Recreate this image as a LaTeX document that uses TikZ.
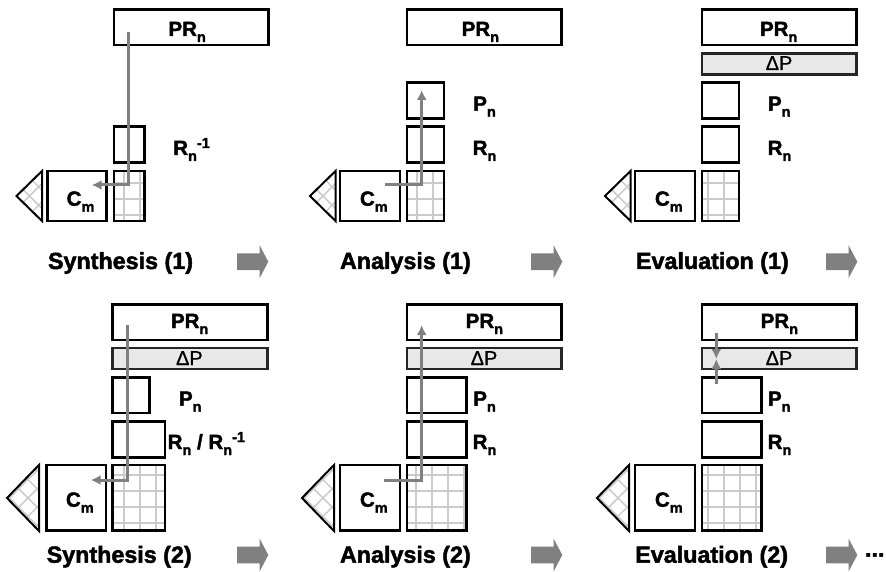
\documentclass[tikz,border=0pt]{standalone}
\usepackage{fontspec}
\setmainfont{Liberation Sans}[BoldFeatures={FakeBold=2}]
\newfontfamily\deltafont{Liberation Sans}[FakeBold=0.8]
\usetikzlibrary{arrows.meta}
\newcommand{\lowered}[1]{\raisebox{-6pt}{\fontsize{14.5}{15}\selectfont #1}}
\newcommand{\raised}[1]{\raisebox{7pt}{\fontsize{14.5}{15}\selectfont #1}}
\definecolor{flowgray}{gray}{0.5}
\definecolor{meshgray}{gray}{0.8}
\definecolor{deltafill}{gray}{0.91}
\tikzset{
  cell/.style={draw, line width=2.5pt, inner sep=0pt, outer sep=0pt, anchor=north west},
  deltabar/.style={cell, draw=black!85, fill=deltafill},
  tag/.style={inner sep=0pt, outer sep=0pt, anchor=base west, font=\fontsize{20.5}{24}\selectfont\bfseries},
  deltatag/.style={inner sep=0pt, outer sep=0pt, anchor=base west, font=\fontsize{20}{23}\deltafont},
  stagetag/.style={inner sep=0pt, outer sep=0pt, anchor=base west, font=\fontsize{23.3}{28}\selectfont\bfseries},
  mesh/.style={meshgray, line width=1.8pt},
  flow/.style={flowgray, line width=3pt},
  flowtip/.style={flow, -{Latex[length=10pt,width=10pt]}},
}
\begin{document}
\begin{tikzpicture}[x=1pt,y=-1pt]
    \useasboundingbox (0,0) rectangle (886,572);
    % meshes of the triangles and of the grid cells
    \foreach \tipx/\edge/\tipy/\top/\low/\off in {16.5/42/196/171/221/13, 310/335.5/196/171/221/13, 605/630.5/196/171/221/13,
        7/39/498/465/531/21, 302/334/498/465/531/21, 597/629/498/465/531/21}{
    \begin{scope}
    \clip (\tipx,\tipy) -- (\edge,\top) -- (\edge,\low) -- cycle;
    \draw[mesh, line width=1.5pt, step=13pt, shift={(\tipx+\off,\tipy)}, rotate=45] (-65,-65) grid (65,65);
    \end{scope}
    \draw[line width=2pt, line join=miter] (\tipx,\tipy) -- (\edge,\top) -- (\edge,\low) -- cycle;
    }
    \foreach \gx/\gy/\gw/\gh/\ox/\oy in {114/171/30.5/50/124/183, 407/171/37/50/417/183, 702/171/37/50/708/183,
        112.7/465/52.5/65.7/124/475, 407/465/59.5/65.7/416/475, 702/465/59.5/65.7/708/475}{
    \begin{scope}
    \clip (\gx,\gy) rectangle ++(\gw,\gh);
    \draw[mesh, step=16pt, shift={(\ox,\oy)}] (-32,-32) grid (96,96);
    \end{scope}
    }
    % cells
    \foreach \n/\x/\y/\w/\h in {gridsa/114/171/30.5/50, gridaa/407/171/37/50, gridea/702/171/37/50,
        gridsb/112.7/465/52.5/65.7, gridab/407/465/59.5/65.7, grideb/702/465/59.5/65.7,
        csa/47.5/171/59/50, caa/340/171/60/50, cea/635/171/60/50,
        csb/46.7/465/59.3/65.7, cab/340/465/60/65.7, ceb/635/465/60/65.7,
        prsa/114/9.5/154.5/35.5, praa/407/9.5/154.5/35.5, prea/702/9.5/154.5/35.5,
        prsb/112.7/304.3/155/35.5, prab/407/304.3/154.5/35.5, preb/702/304.3/154.5/35.5,
        rsa/114/126.7/30.5/36, raa/407/126.7/37/36, rea/702/126.7/37/36,
        paa/407/82.7/37/35.6, pea/702/82.7/37/35.6,
        psb/112.7/377.7/37/35.3, pab/407/377.7/59.5/35.3, peb/702/377.7/59.5/35.3,
        rsb/112.7/421.3/52.5/36, rab/407/421.3/59.5/36, reb/702/421.3/59.5/36}
    \node[cell, minimum width=\w pt, minimum height=\h pt] (\n) at (\x,\y) {};
    % delta bars
    \foreach \n/\x/\y/\w/\tx/\ty in {dea/702/53.7/154.5/765.7/70, dsb/112.7/348/155/176/365,
        dab/407/348/154.5/470.7/365, deb/702/348/154.5/765.7/365}{
    \node[deltabar, minimum width=\w pt, minimum height=20.8pt] (\n) at (\x,\y) {};
    \node[deltatag] (t\n) at (\tx,\ty) {ΔP};
    }
    % labels
    \foreach \n/\x/\y in {sa/168.5/36, aa/461.7/36, ea/760/36, sb/171/328, ab/465.7/328, eb/760.7/328}
    \node[tag] (tpr\n) at (\x,\y) {PR\lowered{n}};
    \foreach \n/\x/\y in {sa/66.7/205.7, aa/360/205.7, ea/655/205.7, sb/66/506.7, ab/360/506.7, eb/655/506.7}
    \node[tag] (tc\n) at (\x,\y) {C\lowered{m}};
    \foreach \n/\x/\y in {aa/473.3/110.7, ea/768/110.7, sb/179/405.7, ab/473.3/405.7, eb/768/405.7}
    \node[tag] (tp\n) at (\x,\y) {P\lowered{n}};
    \foreach \n/\x/\y in {aa/472.7/155, ea/767.7/155, ab/472.7/449, eb/767.7/449}
    \node[tag] (tr\n) at (\x,\y) {R\lowered{n}};
    \node[tag] (trsa) at (173.3,155) {R\lowered{n}\raised{-1}};
    \node[tag] (trsb) at (167.7,449) {R\lowered{n} / R\lowered{n}\raised{-1}};
    % stage names and block arrows
    \foreach \n/\x/\y/\stage in {sa/48/269/{Synthesis (1)}, aa/340/269/{Analysis (1)}, ea/636/269/{Evaluation (1)},
        sb/46.7/562.7/{Synthesis (2)}, ab/340/562.7/{Analysis (2)}, eb/635.3/562.7/{Evaluation (2)}}
    \node[stagetag] (st\n) at (\x,\y) {\stage};
    \foreach \x/\y in {237/261.7, 531/261.7, 826/261.7, 237/555, 531/555, 826/555}
    \fill[flowgray] (\x,\y-8.3) -- ++(22.5,0) -- ++(0,-8.3) -- (\x+31.3,\y) -- (\x+22.5,\y+16.6) -- ++(0,-8.3) -- (\x,\y+8.3) -- cycle;
    \node[stagetag] (more) at (865,556.7) {...};
    % flows
    \coordinate (fsa1) at (128.3,32);
    \coordinate (fsa2) at (91.7,185);
    \draw[flowtip] (fsa1) |- (fsa2);
    \coordinate (faa1) at (385,185);
    \coordinate (faa2) at (421.7,90);
    \draw[flowtip] (faa1) -| (faa2);
    \coordinate (fsb1) at (127,325);
    \coordinate (fsb2) at (90.7,480);
    \draw[flowtip] (fsb1) |- (fsb2);
    \coordinate (fab1) at (384.3,480);
    \coordinate (fab2) at (421.7,325);
    \draw[flowtip] (fab1) -| (fab2);
    \coordinate (feb1) at (716.3,332.7);
    \coordinate (feb2) at (716.3,359);
    \coordinate (feb3) at (716.3,384.3);
    \draw[flowtip] (feb1) -- (feb2);
    \draw[flowtip] (feb3) -- (feb2);
\end{tikzpicture}
\end{document}
